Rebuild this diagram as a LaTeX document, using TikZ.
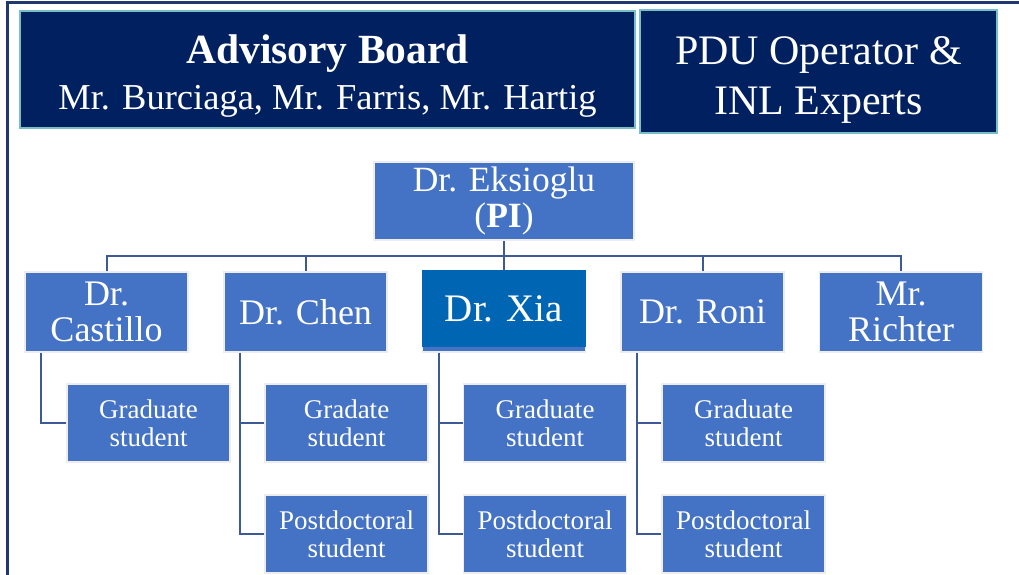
\documentclass[tikz,border=0pt]{standalone}
\usepackage{fontspec}
\setmainfont{Liberation Serif}
\definecolor{navy}{RGB}{0,32,96}
\definecolor{tealedge}{RGB}{120,190,200}
\definecolor{boxblue}{RGB}{68,114,196}
\definecolor{xiablue}{RGB}{0,102,179}
\definecolor{linkblue}{RGB}{62,90,150}
\definecolor{framenavy}{RGB}{32,56,110}
\begin{document}
\begin{tikzpicture}[x=1pt,y=-1pt,
  headbox/.style={draw=tealedge,line width=2.5pt,fill=navy,text=white,align=center,inner sep=0pt},
  lvltwo/.style={draw=white!86!gray,line width=1.5pt,fill=boxblue,text=white,align=center,inner sep=0pt,
    minimum width=163pt,minimum height=80pt,font=\fontsize{36}{36}\selectfont},
  lvlthree/.style={draw=white!86!gray,line width=1.5pt,fill=boxblue,text=white,align=center,inner sep=0pt,
    minimum width=163pt,minimum height=78pt,font=\fontsize{27}{28}\selectfont},
  link/.style={draw=linkblue,line width=2pt}]
\useasboundingbox (0,0) rectangle (1019,575);
% outer frame
\draw[framenavy,line width=3pt] (7,575) -- (7,3) -- (1019,3);

% top boxes
\node[headbox,minimum width=615pt,minimum height=117pt] (board) at (327.5,69.5)
  {\rule{0pt}{42pt}{\fontsize{41.5}{46}\selectfont\bfseries Advisory Board}\\[11pt]{\fontsize{36.5}{40}\selectfont Mr. Burciaga, Mr. Farris, Mr. Hartig}};
\node[headbox,minimum width=357pt,minimum height=123pt,font=\fontsize{42}{50}\selectfont] (pdu) at (818.5,71.5)
  {\rule{0pt}{45pt}PDU Operator \&\\INL Experts};

% principal investigator
\node[lvltwo,minimum width=260pt,minimum height=78pt,font=\fontsize{35.5}{36}\selectfont] (pi) at (504,201)
  {Dr. Eksioglu\\(\textbf{PI})};

% second level
\node[lvltwo] (castillo) at (106.5,312) {Dr.\\Castillo};
\node[lvltwo] (chen) at (305.5,312) {Dr. Chen};
\node[lvltwo] (xiabase) at (504,312) {};
\node[fill=xiablue,text=white,inner sep=0pt,minimum width=164pt,minimum height=77pt,
  font=\fontsize{39}{39}\selectfont] (xia) at (504,308.5) {Dr. Xia};
\node[lvltwo] (roni) at (702.5,312) {Dr. Roni};
\node[lvltwo] (richter) at (901,312) {Mr.\\Richter};

% third level
\node[lvlthree] (castgrad) at (148.5,423) {Graduate\\student};
\node[lvlthree] (chengrad) at (346.5,423) {Gradate\\student};
\node[lvlthree] (chenpost) at (346.5,534) {Postdoctoral\\student};
\node[lvlthree] (xiagrad) at (545,423) {Graduate\\student};
\node[lvlthree] (xiapost) at (545,534) {Postdoctoral\\student};
\node[lvlthree] (ronigrad) at (743.5,423) {Graduate\\student};
\node[lvlthree] (ronipost) at (743.5,534) {Postdoctoral\\student};

% connectors
\coordinate (bus) at (0,256);
\draw[link] (castillo.north) -- (castillo.north |- bus) -- (richter.north |- bus) -- (richter.north);
\draw[link] (chen.north) -- (chen.north |- bus);
\draw[link] (roni.north) -- (roni.north |- bus);
\draw[link] (pi.south) -- (xia.north);

\draw[link] ([xshift=17pt]castillo.south west) |- (castgrad.west);
\draw[link] ([xshift=17pt]chen.south west) |- (chengrad.west);
\draw[link] ([xshift=17pt]chen.south west) |- (chenpost.west);
\draw[link] ([xshift=17pt]xiabase.south west) |- (xiagrad.west);
\draw[link] ([xshift=17pt]xiabase.south west) |- (xiapost.west);
\draw[link] ([xshift=17pt]roni.south west) |- (ronigrad.west);
\draw[link] ([xshift=17pt]roni.south west) |- (ronipost.west);
\end{tikzpicture}
\end{document}
